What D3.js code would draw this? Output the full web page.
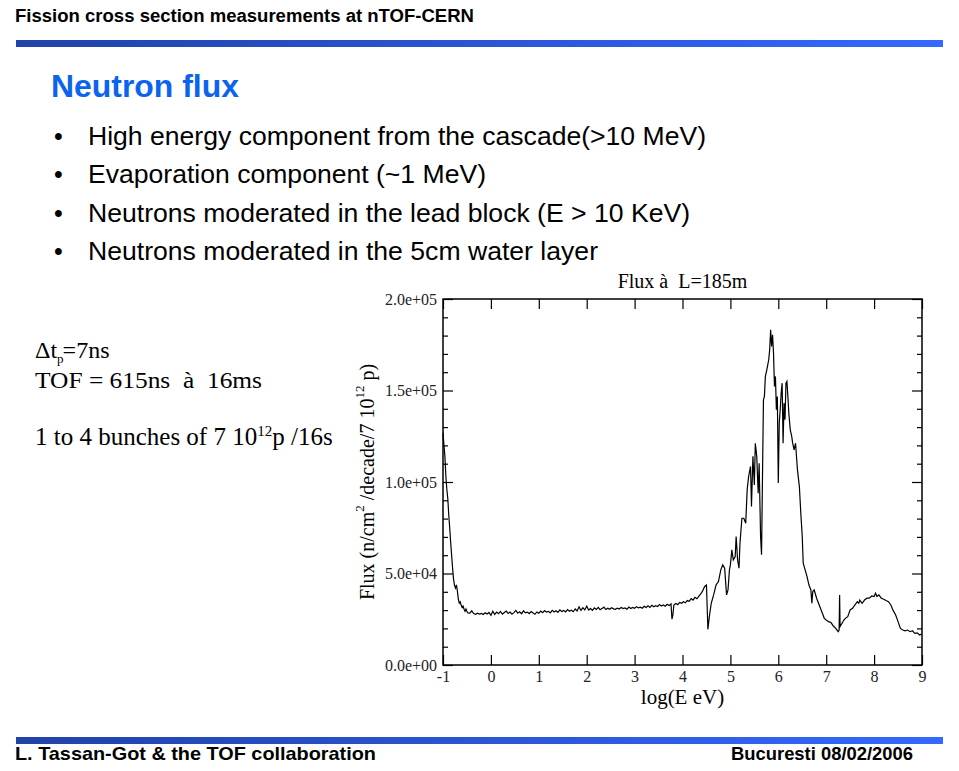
<!DOCTYPE html>
<html><head><meta charset="utf-8">
<script src="https://cdn.jsdelivr.net/npm/d3@7"></script>
<style>
html,body{margin:0;padding:0;background:#fff;}
svg{display:block;}
text{white-space:pre;}
</style></head><body>
<svg id="c" width="959" height="771"></svg>
<script>
// ---------- texts ----------
const headerText = "Fission cross section measurements at nTOF-CERN";
const slideTitle = "Neutron flux";
const bullets = [
  "High energy component from the cascade(>10 MeV)",
  "Evaporation component (~1 MeV)",
  "Neutrons moderated in the lead block (E > 10 KeV)",
  "Neutrons moderated in the 5cm water layer"
];
const footerLeft = "L. Tassan-Got & the TOF collaboration";
const footerRight = "Bucuresti 08/02/2006";
const chartTitle = "Flux \u00e0  L=185m";
const xLabel = "log(E eV)";

// ---------- axis ticks ----------
const xTicks = [-1, 0, 1, 2, 3, 4, 5, 6, 7, 8, 9];
const xTickLabels = ["-1", "0", "1", "2", "3", "4", "5", "6", "7", "8", "9"];
const yMajorTicks = [0, 50000, 100000, 150000, 200000];
const yTickLabels = ["0.0e+00", "5.0e+04", "1.0e+05", "1.5e+05", "2.0e+05"];

// ---------- data: [log10(E/eV), flux] ----------
const fluxThermal = [
[-1.00,127000],[-0.98,120000],[-0.96,114000],[-0.94,103000],[-0.92,96000],[-0.90,91000],[-0.88,82000],[-0.86,75000],[-0.84,67000],[-0.82,60000],[-0.80,53000],[-0.78,47000],[-0.76,43500],[-0.74,42000],[-0.72,43800],[-0.70,40500],[-0.68,36000],[-0.66,33800],[-0.64,34500],[-0.62,32600],[-0.60,31400],[-0.58,32200],[-0.56,30500],[-0.54,29400],[-0.52,30600],[-0.50,29200],[-0.48,28500]
];
const fluxPlateau = [
[-0.44,28400],[-0.40,29600],[-0.36,28100],[-0.32,27700],[-0.28,28300],[-0.24,27800],[-0.20,28200],[-0.16,27600],[-0.12,28500],[-0.08,27900],[-0.04,28700],[0.00,27200],[0.04,29400],[0.08,27600],[0.12,28900],[0.16,28000],[0.20,29300],[0.24,27800],[0.28,28700],[0.32,29500],[0.36,28200],[0.40,28900],[0.44,27800],[0.48,28600],[0.52,29800],[0.56,28300],[0.60,29100],[0.64,28000],[0.68,29600],[0.72,28500],[0.76,28900],[0.80,28100],[0.84,29200],[0.88,28400],[0.92,27700],[0.96,29000],[1.00,28300],[1.04,29500],[1.08,28600],[1.12,29700],[1.16,28900],[1.20,29300],[1.24,28500],[1.28,29900],[1.32,29000],[1.36,29600],[1.40,28800],[1.44,30100],[1.48,29200],[1.52,29800],[1.56,29000],[1.60,30300],[1.64,29400],[1.68,29900],[1.72,29100],[1.76,30600],[1.80,29500],[1.84,31800],[1.88,29800],[1.92,31300],[1.96,30100],[2.00,32200],[2.04,30000],[2.08,30800],[2.12,29900],[2.16,31200],[2.20,30400],[2.24,31500],[2.28,30200],[2.32,30900],[2.36,31600],[2.40,30300],[2.44,31000],[2.48,30500],[2.52,31300],[2.56,30700],[2.60,30400],[2.64,31100],[2.68,30600],[2.72,31400],[2.76,30800],[2.80,31200],[2.84,30500],[2.88,31700],[2.92,30900],[2.96,31500],[3.00,31000],[3.04,31800],[3.08,31200],[3.12,31600],[3.16,31000],[3.20,32100],[3.24,31400],[3.28,32300],[3.32,31500],[3.36,32600],[3.40,31800],[3.44,32400],[3.48,32000],[3.52,33000],[3.56,32200],[3.60,32800],[3.64,32100],[3.68,33200],[3.72,32500],[3.76,33400],[3.78,25000],[3.80,27500],[3.82,32800],[3.86,33600],[3.90,33000],[3.94,34200],[3.98,33700],[4.02,34600],[4.06,34000],[4.10,35200],[4.14,34800],[4.18,36300],[4.22,35500],[4.26,37000],[4.30,36200],[4.34,37500],[4.38,38800],[4.42,40500],[4.46,42800],[4.50,43700],[4.53,19500],[4.56,26400]
];
const fluxPeak = [
[4.60,33700],[4.65,38300],[4.70,43700],[4.75,45600],[4.80,52000],[4.84,54700],[4.88,52900],[4.92,38300],[4.95,41000],[4.98,52000],[5.00,54700],[5.03,62900],[5.06,57400],[5.10,59200],[5.12,70200],[5.15,57400],[5.18,52900],[5.20,66500],[5.24,80200],[5.28,80200],[5.32,77500],[5.35,95700],[5.38,103000],[5.42,108500],[5.44,86600],[5.47,114000],[5.50,98400],[5.52,121200],[5.55,114000],[5.58,93900],[5.60,110300],[5.63,70200],[5.65,60200],[5.67,103000],[5.69,144900],[5.71,146800],[5.73,157700],[5.76,161300],[5.80,166800],[5.82,172300],[5.84,183200],[5.86,174100],[5.88,180500],[5.90,170500],[5.92,152200],[5.94,157700],[5.96,139500],[5.98,146700],[6.00,99400],[6.02,132200],[6.04,139500],[6.06,148600],[6.08,154000],[6.10,121200],[6.12,143100],[6.14,134000],[6.16,154000],[6.18,155000],[6.20,146700],[6.22,137600],[6.25,128500],[6.28,124900],[6.30,121200],[6.33,117600],[6.36,121200],[6.40,106600],[6.44,97500],[6.47,82900],[6.50,70200],[6.52,55600],[6.56,52000],[6.60,48300],[6.64,43700],[6.68,41000],[6.70,33700],[6.72,40100],[6.75,41000],[6.80,36500],[6.84,33700],[6.88,31000]
];
const fluxFast = [
[6.92,28300],[6.96,25500],[7.00,24600],[7.05,23700],[7.10,23200],[7.15,21300],[7.20,20000],[7.25,18200],[7.27,19100],[7.28,38300],[7.29,21000],[7.33,22800],[7.37,24600],[7.40,25500],[7.45,26400],[7.50,30100],[7.55,31000],[7.60,32800],[7.65,34600],[7.68,33700],[7.70,35500],[7.75,33700],[7.80,35500],[7.85,36500],[7.90,36500],[7.95,37700],[8.00,37400],[8.03,39200],[8.06,37400],[8.10,38300],[8.15,36500],[8.20,35900],[8.25,35200],[8.30,34600],[8.35,32800],[8.40,29700],[8.45,27300],[8.50,23700],[8.55,20000],[8.60,19100],[8.65,18700],[8.70,19100],[8.75,18200],[8.80,18700],[8.85,17300],[8.90,17600],[8.95,16400],[9.00,17000]
];
const fluxData = fluxThermal.concat(fluxPlateau, fluxPeak, fluxFast);

// ---------- drawing ----------
const svg = d3.select("#c");
const sans = "'Liberation Sans', Arial, Helvetica, sans-serif";
const serif = "'Liberation Serif', 'Times New Roman', Times, serif";

const defs = svg.append("defs");
const grad = defs.append("linearGradient").attr("id", "bar").attr("x1", "0%").attr("x2", "100%");
grad.append("stop").attr("offset", "0%").attr("stop-color", "#2143a8");
grad.append("stop").attr("offset", "100%").attr("stop-color", "#3468ff");

// header
svg.append("text").attr("x", 15).attr("y", 22)
  .attr("font-family", sans).attr("font-weight", "bold").attr("font-size", 18)
  .attr("textLength", 459).attr("lengthAdjust", "spacingAndGlyphs")
  .text(headerText);
svg.append("rect").attr("x", 16).attr("y", 40).attr("width", 927).attr("height", 7).attr("fill", "url(#bar)");

// slide title
svg.append("text").attr("x", 51).attr("y", 97)
  .attr("font-family", sans).attr("font-weight", "bold").attr("font-size", 31)
  .attr("textLength", 188).attr("lengthAdjust", "spacingAndGlyphs")
  .attr("fill", "#0a64f0").text(slideTitle);

// bullets
const bulletLens = [618, 398, 602, 510];
bullets.forEach((b, i) => {
  const yb = 145 + i * 38.3;
  svg.append("text").attr("x", 54).attr("y", yb)
    .attr("font-family", sans).attr("font-size", 25).text("\u2022");
  svg.append("text").attr("x", 88).attr("y", yb)
    .attr("font-family", sans).attr("font-size", 26)
    .attr("textLength", bulletLens[i]).attr("lengthAdjust", "spacingAndGlyphs")
    .text(b);
});

// left notes
const n1 = svg.append("text").attr("x", 35).attr("y", 358)
  .attr("font-family", serif).attr("font-size", 24);
n1.append("tspan").text("\u0394t");
n1.append("tspan").attr("font-size", 13).attr("dy", 5).text("p");
n1.append("tspan").attr("dy", -5).attr("dx", -1).text("=7ns");

svg.append("text").attr("x", 35).attr("y", 388)
  .attr("font-family", serif).attr("font-size", 24)
  .attr("textLength", 227).attr("lengthAdjust", "spacingAndGlyphs")
  .text("TOF = 615ns  \u00e0  16ms");

const n3 = svg.append("text").attr("x", 35).attr("y", 445)
  .attr("font-family", serif).attr("font-size", 25);
n3.append("tspan").text("1 to 4 bunches of 7 10");
n3.append("tspan").attr("font-size", 15).attr("dy", -9).text("12");
n3.append("tspan").attr("dy", 9).text("p /16s");

// footer
svg.append("rect").attr("x", 16).attr("y", 737).attr("width", 927).attr("height", 7).attr("fill", "url(#bar)");
svg.append("text").attr("x", 15).attr("y", 760)
  .attr("font-family", sans).attr("font-weight", "bold").attr("font-size", 19)
  .attr("textLength", 361).attr("lengthAdjust", "spacingAndGlyphs")
  .text(footerLeft);
svg.append("text").attr("x", 731).attr("y", 760)
  .attr("font-family", sans).attr("font-weight", "bold").attr("font-size", 19)
  .attr("textLength", 182).attr("lengthAdjust", "spacingAndGlyphs")
  .text(footerRight);

// ---------- chart ----------
const x = d3.scaleLinear().domain([-1, 9]).range([443, 922]);
const y = d3.scaleLinear().domain([0, 200000]).range([665, 299]);
const yMinorTicks = d3.range(0, 200001, 10000).filter(v => yMajorTicks.indexOf(v) < 0);
const [xl, xr] = x.range();
const [yb, yt] = y.range();

function styleAxis(g) {
  g.select(".domain").remove();
  g.selectAll(".tick line").attr("stroke", "#000").attr("stroke-width", 1.2);
  g.selectAll(".tick text").attr("font-family", serif).attr("font-size", 16).attr("fill", "#222");
}

// left minor + major
svg.append("g").attr("transform", `translate(${xl},0)`)
  .call(d3.axisLeft(y).tickValues(yMinorTicks).tickSize(-5).tickFormat("")).call(styleAxis);
svg.append("g").attr("transform", `translate(${xl},0)`)
  .call(d3.axisLeft(y).tickValues(yMajorTicks).tickSize(-10).tickPadding(6)
    .tickFormat((d, i) => yTickLabels[i])).call(styleAxis);
// right minor + major
svg.append("g").attr("transform", `translate(${xr},0)`)
  .call(d3.axisRight(y).tickValues(yMinorTicks).tickSize(-5).tickFormat("")).call(styleAxis);
svg.append("g").attr("transform", `translate(${xr},0)`)
  .call(d3.axisRight(y).tickValues(yMajorTicks).tickSize(-10).tickFormat("")).call(styleAxis);
// bottom and top
svg.append("g").attr("transform", `translate(0,${yb})`)
  .call(d3.axisBottom(x).tickValues(xTicks).tickSize(-10).tickPadding(6)
    .tickFormat((d, i) => xTickLabels[i])).call(styleAxis);
svg.append("g").attr("transform", `translate(0,${yt})`)
  .call(d3.axisTop(x).tickValues(xTicks).tickSize(-10).tickFormat("")).call(styleAxis);

// frame
svg.append("rect").attr("x", xl).attr("y", yt).attr("width", xr - xl).attr("height", yb - yt)
  .attr("fill", "none").attr("stroke", "#000").attr("stroke-width", 1.5);

// curve
const line = d3.line().x(d => x(d[0])).y(d => y(d[1]));
svg.append("path").datum(fluxData).attr("d", line)
  .attr("fill", "none").attr("stroke", "#000").attr("stroke-width", 1.2)
  .attr("stroke-linejoin", "miter");

// chart title and axis labels
svg.append("text").attr("x", (xl + xr) / 2).attr("y", 288).attr("text-anchor", "middle")
  .attr("font-family", serif).attr("font-size", 20).text(chartTitle);
svg.append("text").attr("x", (xl + xr) / 2).attr("y", 704).attr("text-anchor", "middle")
  .attr("font-family", serif).attr("font-size", 21).text(xLabel);

const yl = svg.append("text").attr("transform", `translate(374,${(yt + yb) / 2}) rotate(-90)`)
  .attr("text-anchor", "middle").attr("font-family", serif).attr("font-size", 20);
yl.append("tspan").text("Flux (n/cm");
yl.append("tspan").attr("font-size", 13).attr("dy", -10).text("2");
yl.append("tspan").attr("dy", 10).text(" /decade/7 10");
yl.append("tspan").attr("font-size", 13).attr("dy", -10).text("12");
yl.append("tspan").attr("dy", 10).text(" p)");
</script>
</body></html>
